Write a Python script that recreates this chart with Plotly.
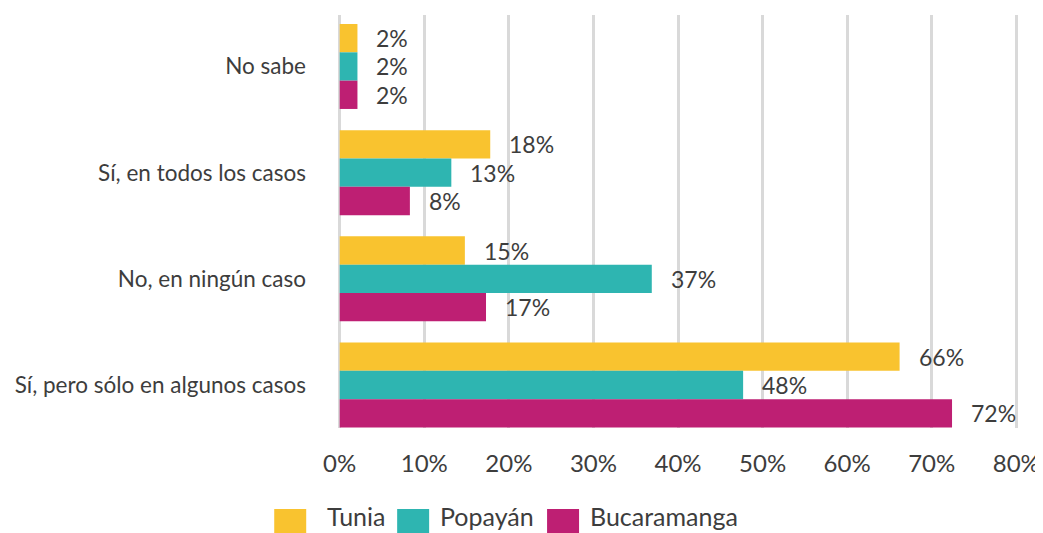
import plotly.graph_objects as go

# ---- data ----
categories = ["No sabe", "Sí, en todos los casos", "No, en ningún caso", "Sí, pero sólo en algunos casos"]
series_names = ["Tunia", "Popayán", "Bucaramanga"]
tunia = [2.1, 17.8, 14.8, 66.2]
popayan = [2.1, 13.2, 36.9, 47.7]
bucaramanga = [2.1, 8.3, 17.3, 72.4]
tunia_labels = ["2%", "18%", "15%", "66%"]
popayan_labels = ["2%", "13%", "37%", "48%"]
bucaramanga_labels = ["2%", "8%", "17%", "72%"]
x_tick_values = [0, 10, 20, 30, 40, 50, 60, 70, 80]
x_tick_labels = ["0%", "10%", "20%", "30%", "40%", "50%", "60%", "70%", "80%"]

colors = ["#F9C32F", "#2EB5B1", "#BE1F73"]
values = [tunia, popayan, bucaramanga]
labels = [tunia_labels, popayan_labels, bucaramanga_labels]

FONT = "Lato"
TXT = "#3D3D3D"

# the page places the figure 8px from the window's top-left corner
OFF = 8
W, H = 1043 - OFF, 533 - OFF
X0_PX, X80_PX = 339.5, 1016.5          # window x of 0% and 80%
scale = (X80_PX - X0_PX) / 80.0
x_range = [-0.2, 80.2]
left_px = X0_PX + x_range[0] * scale
right_px = X0_PX + x_range[1] * scale
ML = left_px - OFF
MR = W - (right_px - OFF)
MT = 15 - OFF
MB = H - (428 - OFF)
plot_h = H - MT - MB
plot_w = W - ML - MR
y_range = [3.405, -0.485]
px_per_cat = plot_h / (y_range[0] - y_range[1])
bar_px = px_per_cat * 0.8 / 3

fig = go.Figure()
for name, vals, col in zip(series_names, values, colors):
    fig.add_trace(go.Bar(
        y=categories, x=vals, name=name, orientation="h",
        marker=dict(color=col, line=dict(width=0)),
        showlegend=False, hoverinfo="skip",
    ))

# data labels
shifts = [bar_px, 0, -bar_px]
for vals, labs, ys in zip(values, labels, shifts):
    for cat, v, lab in zip(categories, vals, labs):
        fig.add_annotation(
            x=v, y=cat, xref="x", yref="y", text=lab, showarrow=False,
            xanchor="left", yanchor="middle", xshift=17, yshift=ys,
            font=dict(family=FONT, size=23, color=TXT),
        )

# custom legend (large squares), positions in window pixels
def px2paper_x(px):
    return (px - OFF - ML) / plot_w
def px2paper_y(py):
    return (H - MB - (py - OFF)) / plot_h

legend_sq_x = [274, 397, 547]
legend_txt_x = [325, 438, 588]
for name, col, sx, tx in zip(series_names, colors, legend_sq_x, legend_txt_x):
    fig.add_shape(type="rect", xref="paper", yref="paper",
                  x0=px2paper_x(sx), x1=px2paper_x(sx + 32),
                  y0=px2paper_y(509), y1=px2paper_y(541),
                  fillcolor=col, line=dict(width=0))
    fig.add_annotation(x=px2paper_x(tx), y=px2paper_y(533), xref="paper", yref="paper",
                       text=name, showarrow=False, xanchor="left", yanchor="bottom",
                       font=dict(family=FONT, size=25, color=TXT))

fig.update_layout(
    width=W, height=H,
    margin=dict(l=ML, r=MR, t=MT, b=MB, autoexpand=False),
    barmode="group", bargap=0.2, bargroupgap=0,
    plot_bgcolor="white", paper_bgcolor="white",
    font=dict(family=FONT, color=TXT),
    showlegend=False,
)
fig.update_xaxes(
    range=x_range, tickvals=x_tick_values, ticktext=x_tick_labels,
    showgrid=True, gridcolor="#D9D9D9", gridwidth=3,
    zeroline=False, showline=False, ticks="",
    tickfont=dict(family=FONT, size=24, color=TXT),
    ticklabelstandoff=19, automargin=False,
)
fig.update_yaxes(
    categoryorder="array", categoryarray=categories,
    range=y_range, showgrid=False, zeroline=False, showline=False, ticks="",
    tickfont=dict(family=FONT, size=22.5, color=TXT),
    ticklabelstandoff=31, automargin=False,
)

fig.write_html("out.html")
